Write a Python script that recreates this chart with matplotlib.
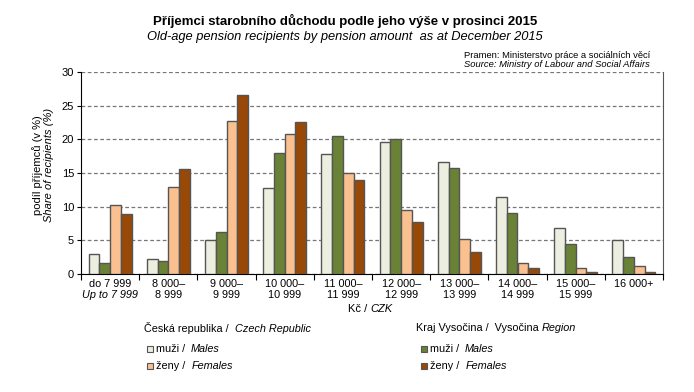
import numpy as np
import matplotlib.pyplot as plt
from matplotlib.patches import Rectangle

plt.rcParams['font.family'] = ['Liberation Sans', 'DejaVu Sans']

# data
line1 = ['do 7 999', '8 000–', '9 000–', '10 000–', '11 000–', '12 000–',
         '13 000–', '14 000–', '15 000–', '16 000+']
line2 = ['Up to 7 999', '8 999', '9 999', '10 999', '11 999', '12 999',
         '13 999', '14 999', '15 999', '']
cz_males = [2.9, 2.2, 5.0, 12.7, 17.8, 19.6, 16.6, 11.4, 6.9, 5.0]
vys_males = [1.7, 1.9, 6.2, 18.0, 20.5, 20.0, 15.7, 9.0, 4.4, 2.5]
cz_females = [10.2, 12.9, 22.7, 20.8, 15.0, 9.5, 5.2, 1.7, 0.9, 1.2]
vys_females = [8.9, 15.6, 26.6, 22.6, 13.9, 7.7, 3.2, 0.9, 0.3, 0.3]

c_czm = '#ECEEDF'
c_vym = '#6A8235'
c_czf = '#FAC090'
c_vyf = '#984807'
edge = '#555555'

fig = plt.figure(figsize=(6.94, 3.92), dpi=100)
ax = fig.add_axes([81/694, 118/392, 582/694, 202/392])

x = np.arange(len(line1))
w = 0.185
series = [(cz_males, c_czm), (vys_males, c_vym), (cz_females, c_czf), (vys_females, c_vyf)]
for i, (vals, col) in enumerate(series):
    ax.bar(x + (i - 1.5) * w, vals, w, color=col, edgecolor=edge, linewidth=1, zorder=3)

ax.set_xlim(-0.5, 9.5)
ax.set_ylim(0, 30)
ax.set_yticks(range(0, 31, 5))
ax.tick_params(axis='y', labelsize=8, length=3, color='black', pad=2)
ax.yaxis.grid(True, linestyle=(0, (3, 2)), color='#777777', linewidth=0.9, zorder=0)
ax.set_xticks(np.arange(-0.5, 9.6, 1))
ax.set_xticklabels([])
ax.tick_params(axis='x', length=4, color='black')
ax.spines['top'].set_visible(False)
ax.spines['right'].set_color('#555555')
ax.spines['left'].set_color('black')
ax.spines['bottom'].set_color('black')

# category labels
for i in range(len(line1)):
    ax.text(i, -1.5, line1[i], ha='center', va='center', fontsize=7.8)
    ax.text(i, -3.15, line2[i], ha='center', va='center', fontsize=7.8,
            style='italic' if i == 0 else 'normal')

# x axis title
fig.text(370/694, 1 - 309/392, 'Kč / ', ha='right', va='center', fontsize=8)
fig.text(370/694, 1 - 309/392, 'CZK', ha='left', va='center', fontsize=8, style='italic')

# y axis title
fig.text(38/694, 0.578, 'podíl příjemců (v %)', rotation=90, ha='center', va='center', fontsize=8)
fig.text(48.5/694, 0.578, 'Share of recipients (%)', rotation=90, ha='center', va='center',
         fontsize=8, style='italic')

# titles
fig.text(345/694, 1 - 20.5/392, 'Příjemci starobního důchodu podle jeho výše v prosinci 2015',
         ha='center', va='center', fontsize=9.5, fontweight='bold')
fig.text(345/694, 1 - 37/392, 'Old-age pension recipients by pension amount  as at December 2015',
         ha='center', va='center', fontsize=9.3, style='italic')
fig.text(650/694, 1 - 55/392, 'Pramen: Ministerstvo práce a sociálních věcí',
         ha='right', va='center', fontsize=6.75)
fig.text(650/694, 1 - 64.5/392, 'Source: Ministry of Labour and Social Affairs',
         ha='right', va='center', fontsize=6.75, style='italic')


def mixed(xp, yp, parts, size=7.8):
    prev = fig.text(xp/694, 1 - yp/392, parts[0][0], ha='left', va='center',
                    fontsize=size, style=parts[0][1])
    for txt, st in parts[1:]:
        prev = ax.annotate(txt, xy=(1, 0), xycoords=prev, ha='left', va='bottom',
                           fontsize=size, style=st, annotation_clip=False)
    return prev


def legend_item(xp, yp, col, parts):
    fig.patches.append(Rectangle((xp/694, 1 - (yp + 3)/392), 6/694, 6/392,
                                 transform=fig.transFigure, facecolor=col,
                                 edgecolor=edge, linewidth=0.8))
    mixed(xp + 9, yp, parts)


mixed(144, 328, [('Česká republika /  ', 'normal'), ('Czech Republic', 'italic')])
mixed(416, 328, [('Kraj Vysočina /  Vysočina ', 'normal'), ('Region', 'italic')])
legend_item(147, 349, c_czm, [('muži /  ', 'normal'), ('Males', 'italic')])
legend_item(147, 366, c_czf, [('ženy /  ', 'normal'), ('Females', 'italic')])
legend_item(421, 349, c_vym, [('muži /  ', 'normal'), ('Males', 'italic')])
legend_item(421, 366, c_vyf, [('ženy /  ', 'normal'), ('Females', 'italic')])

fig.savefig('out.png', dpi=100)
